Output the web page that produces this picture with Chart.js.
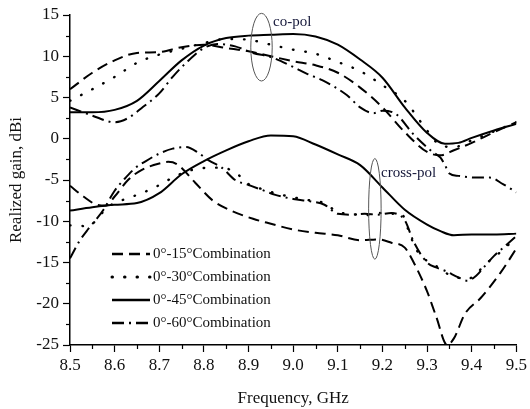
<!DOCTYPE html>
<html>
<head>
<meta charset="utf-8">
<script src="https://cdn.jsdelivr.net/npm/chart.js@4/dist/chart.umd.min.js"></script>
<style>
  html, body { margin: 0; padding: 0; background: #fff; }
  #wrap { width: 530px; height: 409px; }
</style>
</head>
<body>
<div id="wrap"><canvas id="gainChart"></canvas></div>
<script>
// co-pol, 0°-15° combination
const coFreq15 = [8.50, 8.55, 8.60, 8.65, 8.70, 8.75, 8.80, 8.85, 8.90, 8.95, 9.00, 9.05, 9.10, 9.15, 9.20, 9.25, 9.30, 9.33, 9.36, 9.40, 9.45, 9.50];
const coGain15 = [6.0, 8.0, 9.5, 10.4, 10.5, 11.1, 11.4, 11.0, 10.6, 10.0, 9.4, 8.9, 8.0, 6.2, 3.8, 0.8, -1.6, -2.0, -1.4, -0.5, 0.8, 2.0];
// co-pol, 0°-30°
const coFreq30 = [8.50, 8.55, 8.60, 8.65, 8.70, 8.75, 8.80, 8.85, 8.90, 8.95, 9.00, 9.05, 9.10, 9.15, 9.20, 9.25, 9.30, 9.33, 9.36, 9.40, 9.45, 9.50];
const coGain30 = [4.6, 6.0, 7.5, 9.2, 10.2, 10.9, 11.6, 12.1, 12.0, 11.4, 10.8, 10.3, 9.3, 8.2, 6.5, 4.6, 1.0, -0.8, -1.0, -0.2, 0.9, 2.0];
// co-pol, 0°-45°
const coFreq45 = [8.50, 8.55, 8.60, 8.65, 8.70, 8.75, 8.80, 8.85, 8.90, 8.95, 9.00, 9.05, 9.10, 9.15, 9.20, 9.25, 9.30, 9.34, 9.37, 9.40, 9.45, 9.50];
const coGain45 = [3.2, 3.2, 3.5, 4.6, 7.0, 9.5, 11.3, 12.2, 12.5, 12.6, 12.7, 12.4, 11.4, 9.6, 7.4, 3.8, 0.7, -0.6, -0.5, 0.1, 1.0, 1.8];
// co-pol, 0°-60°
const coFreq60 = [8.50, 8.55, 8.60, 8.63, 8.66, 8.70, 8.73, 8.76, 8.80, 8.83, 8.87, 8.91, 8.95, 9.00, 9.03, 9.065, 9.12, 9.15, 9.18, 9.20, 9.23, 9.27, 9.31, 9.33, 9.34, 9.35, 9.37, 9.41, 9.44, 9.47, 9.50];
const coGain60 = [3.8, 2.8, 2.0, 2.5, 3.7, 5.5, 7.5, 9.2, 11.0, 11.5, 11.2, 10.4, 9.9, 8.7, 7.9, 7.1, 5.3, 3.8, 3.1, 3.4, 3.0, 0.5, -1.5, -2.3, -3.2, -4.2, -4.5, -4.7, -4.7, -5.5, -6.5];

// cross-pol, 0°-15°
const crFreq15 = [8.50, 8.53, 8.56, 8.58, 8.60, 8.63, 8.66, 8.70, 8.72, 8.74, 8.78, 8.82, 8.86, 8.91, 8.95, 9.00, 9.05, 9.10, 9.15, 9.19, 9.22, 9.25, 9.27, 9.30, 9.32, 9.345, 9.36, 9.385, 9.42, 9.465, 9.50];
const crGain15 = [-5.7, -7.0, -8.0, -8.1, -7.0, -5.0, -3.8, -3.0, -2.8, -3.1, -5.3, -7.5, -8.7, -9.7, -10.3, -11.0, -11.4, -11.7, -12.3, -12.2, -12.6, -13.2, -15.0, -18.5, -21.5, -25.0, -24.2, -21.2, -19.3, -16.2, -13.3];
// cross-pol, 0°-30°
const crFreq30 = [8.50, 8.54, 8.56, 8.58, 8.60, 8.63, 8.66, 8.69, 8.72, 8.75, 8.78, 8.82, 8.85, 8.88, 8.90, 8.93, 8.96, 9.00, 9.04, 9.07, 9.10, 9.13, 9.16, 9.19, 9.22, 9.24, 9.25, 9.26, 9.28, 9.30, 9.32, 9.34, 9.36, 9.39, 9.41, 9.43, 9.45, 9.475, 9.50];
const crGain30 = [-10.5, -10.6, -9.8, -8.5, -7.8, -7.2, -6.6, -5.9, -5.0, -4.2, -3.7, -3.5, -3.6, -4.5, -5.5, -6.1, -6.6, -7.1, -7.5, -7.8, -8.9, -9.1, -9.3, -9.0, -9.1, -9.0, -9.7, -11.4, -13.8, -14.8, -15.4, -16.2, -16.7, -17.0, -16.4, -15.2, -14.4, -13.2, -12.0];
// cross-pol, 0°-45°
const crFreq45 = [8.50, 8.55, 8.60, 8.65, 8.70, 8.75, 8.80, 8.85, 8.90, 8.95, 9.00, 9.05, 9.10, 9.15, 9.20, 9.25, 9.30, 9.33, 9.36, 9.40, 9.45, 9.50];
const crGain45 = [-8.7, -8.3, -8.0, -7.8, -6.6, -4.3, -2.7, -1.4, -0.3, 0.4, 0.3, -0.7, -1.9, -3.2, -5.9, -8.6, -10.4, -11.2, -11.7, -11.6, -11.6, -11.5];
// cross-pol, 0°-60°
const crFreq60 = [8.50, 8.52, 8.54, 8.56, 8.575, 8.60, 8.62, 8.645, 8.67, 8.70, 8.73, 8.76, 8.79, 8.81, 8.84, 8.87, 8.90, 8.93, 8.96, 9.00, 9.04, 9.07, 9.10, 9.13, 9.16, 9.19, 9.22, 9.25, 9.27, 9.30, 9.32, 9.34, 9.37, 9.39, 9.41, 9.43, 9.45, 9.475, 9.50];
const crGain60 = [-14.5, -12.5, -11.0, -9.7, -8.6, -6.3, -5.0, -3.6, -2.7, -1.8, -1.2, -1.0, -1.8, -2.6, -3.5, -5.0, -5.6, -6.2, -6.8, -7.3, -7.6, -8.0, -9.1, -9.2, -9.1, -9.2, -9.0, -9.9, -12.5, -15.0, -15.6, -16.0, -16.8, -17.2, -16.6, -15.4, -14.2, -13.0, -11.8];

const seriesLabels = ["0°-15°Combination", "0°-30°Combination", "0°-45°Combination", "0°-60°Combination"];
const freqTicks = [8.5, 8.6, 8.7, 8.8, 8.9, 9.0, 9.1, 9.2, 9.3, 9.4, 9.5];
const gainTicks = [15, 10, 5, 0, -5, -10, -15, -20, -25];

const SERIF = "'Liberation Serif', 'Times New Roman', serif";
const INK = "#111";

// line styles per combination: dashed, dotted, solid, dash-dot
const styles = [
	{ borderDash: [11, 6], borderCapStyle: "butt", borderWidth: 2 },
	{ borderDash: [0.5, 12], borderCapStyle: "round", borderWidth: 2.4 },
	{ borderDash: [], borderCapStyle: "butt", borderWidth: 2 },
	{ borderDash: [12, 5, 2, 5], borderCapStyle: "butt", borderWidth: 2 },
];

function pts(fs, gs) {
	return fs.map((f, i) => ({ x: f, y: gs[i] }));
}

function makeSet(label, fs, gs, k) {
	return Object.assign({
		label: label,
		data: pts(fs, gs),
		borderColor: "#000",
		pointRadius: 0,
		cubicInterpolationMode: "monotone",
		fill: false,
	}, styles[k]);
}

const datasets = [
	makeSet(seriesLabels[0], coFreq15, coGain15, 0),
	makeSet(seriesLabels[1], coFreq30, coGain30, 1),
	makeSet(seriesLabels[2], coFreq45, coGain45, 2),
	makeSet(seriesLabels[3], coFreq60, coGain60, 3),
	makeSet("cross " + seriesLabels[0], crFreq15, crGain15, 0),
	makeSet("cross " + seriesLabels[1], crFreq30, crGain30, 1),
	makeSet("cross " + seriesLabels[2], crFreq45, crGain45, 2),
	makeSet("cross " + seriesLabels[3], crFreq60, crGain60, 3),
];

// minor ticks, the two polarisation ellipses with their notes, and the inset legend
const decorations = {
	id: "decorations",
	afterDraw(chart) {
		const { ctx, scales: { x, y } } = chart;
		ctx.save();

		// minor ticks
		ctx.strokeStyle = "#000";
		ctx.lineWidth = 1.2;
		for (let v = -22.5; v < 15; v += 5) {
			const py = Math.round(y.getPixelForValue(v)) + 0.5;
			ctx.beginPath();
			ctx.moveTo(x.left - 4, py);
			ctx.lineTo(x.left, py);
			ctx.stroke();
		}
		for (let i = 0; i < freqTicks.length - 1; i++) {
			const px = Math.round(x.getPixelForValue(freqTicks[i] + 0.05)) + 0.5;
			ctx.beginPath();
			ctx.moveTo(px, y.bottom);
			ctx.lineTo(px, y.bottom + 4);
			ctx.stroke();
		}

		// ellipses around the co-pol and cross-pol bundles
		ctx.strokeStyle = "#555";
		ctx.lineWidth = 1;
		const ellipse = (f, g, df, dg) => {
			const cx = x.getPixelForValue(f);
			const cy = y.getPixelForValue(g);
			const rx = x.getPixelForValue(f + df) - cx;
			const ry = cy - y.getPixelForValue(g + dg);
			ctx.beginPath();
			ctx.ellipse(cx, cy, rx, ry, 0, 0, Math.PI * 2);
			ctx.stroke();
		};
		ellipse(8.929, 11.1, 0.024, 4.1);
		ellipse(9.183, -8.5, 0.014, 6.1);

		ctx.fillStyle = "#15183a";
		ctx.font = "15px " + SERIF;
		ctx.textAlign = "left";
		ctx.textBaseline = "middle";
		ctx.fillText("co-pol", x.getPixelForValue(8.955), y.getPixelForValue(14.1));
		ctx.fillText("cross-pol", x.getPixelForValue(9.197), y.getPixelForValue(-4.2));

		// legend
		const lx0 = x.left + 42;
		const lx1 = x.left + 80;
		const rows = [y.top + 239, y.top + 262, y.top + 285, y.top + 308];
		ctx.fillStyle = INK;
		for (let i = 0; i < 4; i++) {
			const ds = chart.data.datasets[i];
			ctx.strokeStyle = "#000";
			ctx.lineWidth = ds.borderWidth + 0.6;
			ctx.lineCap = ds.borderCapStyle;
			ctx.setLineDash(ds.borderDash);
			ctx.beginPath();
			ctx.moveTo(lx0, rows[i]);
			ctx.lineTo(lx1, rows[i]);
			ctx.stroke();
			ctx.setLineDash([]);
			ctx.fillText(ds.label, lx1 + 3, rows[i]);
		}
		ctx.restore();
	},
};

new Chart(document.getElementById("gainChart"), {
	type: "line",
	data: { datasets: datasets },
	plugins: [decorations],
	options: {
		responsive: true,
		maintainAspectRatio: false,
		animation: false,
		layout: { padding: { left: 0, right: 12, top: 15, bottom: 0 } },
		plugins: {
			legend: { display: false },
			tooltip: { enabled: false },
		},
		scales: {
			x: {
				type: "linear",
				min: 8.5,
				max: 9.5,
				afterFit: (s) => { s.height = 64; },
				afterBuildTicks: (s) => { s.ticks = freqTicks.map((v) => ({ value: v })); },
				ticks: {
					color: INK,
					font: { family: SERIF, size: 17 },
					padding: 3,
					maxRotation: 0,
					callback: (v) => Number(v).toFixed(1),
				},
				grid: { drawOnChartArea: false, tickLength: 7, tickColor: "#000", tickWidth: 1.2 },
				border: { display: true, color: "#000", width: 1.5 },
				title: {
					display: true,
					text: "Frequency, GHz",
					color: INK,
					font: { family: SERIF, size: 17 },
					padding: { top: 0, bottom: 0 },
				},
			},
			y: {
				type: "linear",
				min: -25,
				max: 15,
				afterFit: (s) => { s.width = 70; },
				afterBuildTicks: (s) => { s.ticks = gainTicks.map((v) => ({ value: v })); },
				ticks: {
					color: INK,
					font: { family: SERIF, size: 17 },
					padding: 4,
				},
				grid: { drawOnChartArea: false, tickLength: 7, tickColor: "#000", tickWidth: 1.2 },
				border: { display: true, color: "#000", width: 1.5 },
				title: {
					display: true,
					text: "Realized gain, dBi",
					color: INK,
					font: { family: SERIF, size: 17 },
					padding: { top: 6, bottom: 0 },
				},
			},
		},
	},
});
</script>
</body>
</html>
